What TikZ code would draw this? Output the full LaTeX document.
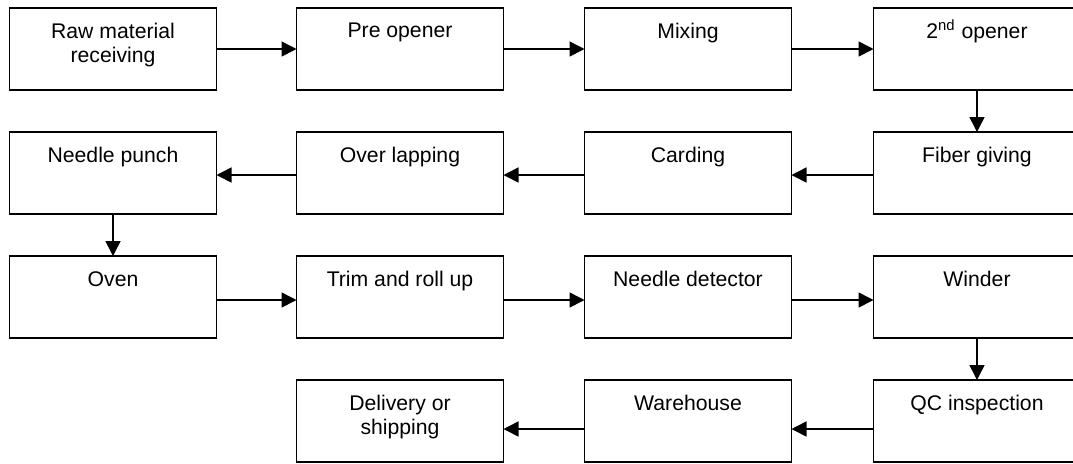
\documentclass[tikz,border=0pt]{standalone}
\usepackage{fontspec}
\setmainfont{Liberation Sans}
\usetikzlibrary{arrows.meta, positioning}

\begin{document}
\begin{tikzpicture}[x=0.5pt, y=-0.5pt,
    font=\fontsize{10.6}{12}\selectfont,
    stage/.style={draw, line width=0.75pt, minimum width=103.5pt,
      minimum height=41pt, inner sep=0pt, outer sep=0pt},
    stagetext/.style={anchor=north, yshift=-7.5pt, align=center, inner sep=0pt},
    flow/.style={line width=0.8pt, -{Triangle[length=7.5pt, width=7.5pt]}}]
    \useasboundingbox (0,0) rectangle (1073,463);

    % Row 1
    \node[stage, label={[stagetext]north:Raw material\\receiving}] (raw) at (113,49) {};
    \node[stage, label={[stagetext]north:Pre opener}] (pre) at (400,49) {};
    \node[stage, label={[stagetext]north:Mixing}] (mix) at (688,49) {};
    \node[stage, label={[stagetext]north:2\smash{\textsuperscript{nd}} opener}] (open2) at (977,49) {};

    % Row 2
    \node[stage, label={[stagetext]north:Fiber giving}] (fiber) at (977,173) {};
    \node[stage, label={[stagetext]north:Carding}] (card) at (688,173) {};
    \node[stage, label={[stagetext]north:Over lapping}] (lap) at (400,173) {};
    \node[stage, label={[stagetext]north:Needle punch}] (punch) at (113,173) {};

    % Row 3
    \node[stage, label={[stagetext]north:Oven}] (oven) at (113,297) {};
    \node[stage, label={[stagetext]north:Trim and roll up}] (trim) at (400,297) {};
    \node[stage, label={[stagetext]north:Needle detector}] (detect) at (688,297) {};
    \node[stage, label={[stagetext]north:Winder}] (wind) at (977,297) {};

    % Row 4
    \node[stage, label={[stagetext]north:QC inspection}] (qc) at (977,421) {};
    \node[stage, label={[stagetext]north:Warehouse}] (ware) at (688,421) {};
    \node[stage, label={[stagetext]north:Delivery or\\shipping}] (ship) at (400,421) {};

    % Flow
    \draw[flow] (raw) -- (pre);
    \draw[flow] (pre) -- (mix);
    \draw[flow] (mix) -- (open2);
    \draw[flow] (open2) -- (fiber);
    \draw[flow] ([yshift=-1pt]fiber.west) -- ([yshift=-1pt]card.east);
    \draw[flow] ([yshift=-1pt]card.west) -- ([yshift=-1pt]lap.east);
    \draw[flow] ([yshift=-1pt]lap.west) -- ([yshift=-1pt]punch.east);
    \draw[flow] (punch) -- (oven);
    \draw[flow] ([yshift=-1.5pt]oven.east) -- ([yshift=-1.5pt]trim.west);
    \draw[flow] ([yshift=-1.5pt]trim.east) -- ([yshift=-1.5pt]detect.west);
    \draw[flow] ([yshift=-1.5pt]detect.east) -- ([yshift=-1.5pt]wind.west);
    \draw[flow] (wind) -- (qc);
    \draw[flow] ([yshift=-4pt]qc.west) -- ([yshift=-4pt]ware.east);
    \draw[flow] ([yshift=-4pt]ware.west) -- ([yshift=-4pt]ship.east);
\end{tikzpicture}
\end{document}
